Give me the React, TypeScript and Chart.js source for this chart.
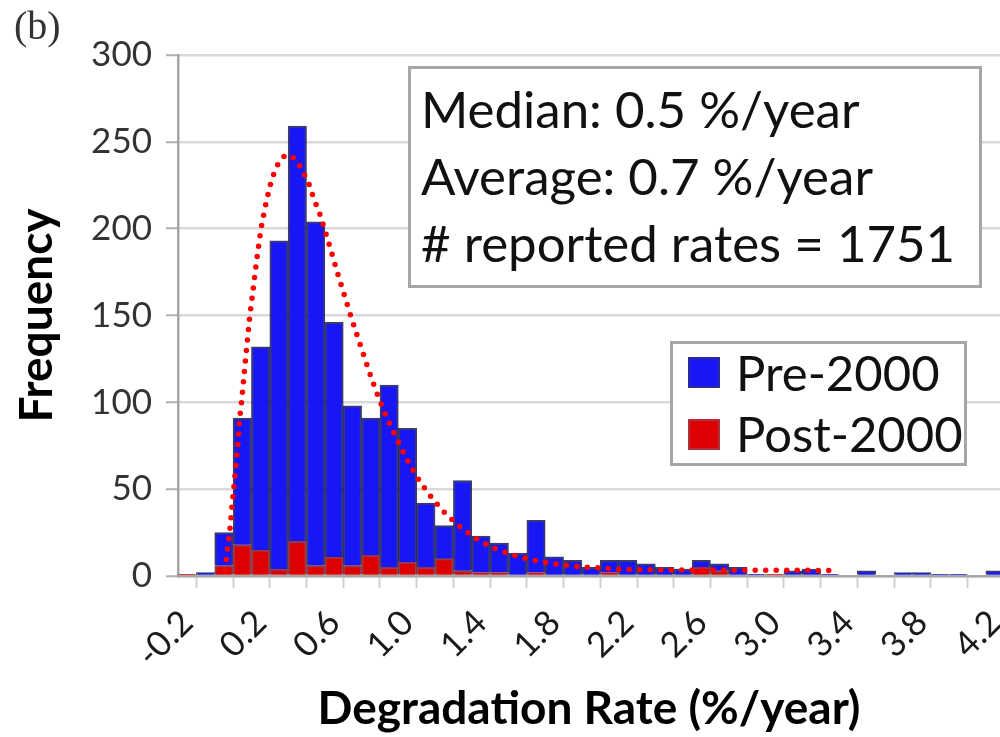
import React, { useEffect, useRef } from 'react';
import { Chart, registerables } from 'chart.js';

Chart.register(...registerables);

// Histogram bins (bin centres, %/year), width 0.1
const binCenters = [
  -0.2, -0.1, 0.0, 0.1, 0.2, 0.3, 0.4, 0.5, 0.6, 0.7, 0.8, 0.9, 1.0, 1.1, 1.2,
  1.3, 1.4, 1.5, 1.6, 1.7, 1.8, 1.9, 2.0, 2.1, 2.2, 2.3, 2.4, 2.5, 2.6, 2.7,
  2.8, 2.9, 3.0, 3.1, 3.2, 3.3, 3.4, 3.5, 3.6, 3.7, 3.8, 3.9, 4.0, 4.1, 4.2,
];
const pre2000 = [
  0, 2, 19, 73, 117, 189, 239, 198, 135, 92, 79, 105, 77, 37, 19,
  52, 21, 17, 13, 30, 11, 9, 5, 7, 9, 7, 5, 4, 4, 4,
  5, 1, 0, 3, 4, 1, 0, 3, 0, 2, 2, 1, 1, 0, 3,
];
const post2000 = [
  1, 0, 6, 18, 15, 4, 20, 6, 11, 6, 12, 5, 8, 5, 10,
  3, 2, 2, 0, 2, 0, 0, 0, 2, 0, 0, 0, 0, 5, 3,
  0, 0, 1, 0, 0, 0, 0, 0, 0, 0, 0, 0, 0, 0, 0,
];

// Fitted distribution (red dotted curve)
const curveX = [
  0.006, 0.019, 0.033, 0.044, 0.055, 0.066, 0.077, 0.084, 0.097, 0.108, 0.119,
  0.13, 0.142, 0.157, 0.171, 0.186, 0.202, 0.224, 0.249, 0.266, 0.288, 0.318,
  0.345, 0.371, 0.409, 0.436, 0.462, 0.481, 0.502, 0.522, 0.556, 0.59, 0.623,
  0.658, 0.692, 0.729, 0.765, 0.803, 0.843, 0.888, 0.936, 0.988, 1.045, 1.11,
  1.184, 1.266, 1.358, 1.459, 1.565, 1.678, 1.792, 1.905, 2.02, 2.134, 2.25,
  2.42, 2.71, 3.0, 3.34,
];
const curveY = [
  3.5, 15, 27, 40, 52, 64, 77, 89, 101, 113.6, 126,
  138, 150.6, 163, 175.6, 187.7, 200, 212, 224, 230, 236, 241,
  242.5, 241.7, 237, 231.6, 226, 220, 214, 208.6, 197, 185, 173,
  161, 149.4, 137.4, 126, 114, 102.5, 91, 80, 69, 58, 48,
  38.4, 30, 22.5, 16.5, 12.3, 9.2, 7.1, 5.6, 4.8, 4.0, 3.6,
  3.5, 3.4, 3.3, 3.2,
];

// Axis ticks
const xLabelTicks = [-0.2, 0.2, 0.6, 1.0, 1.4, 1.8, 2.2, 2.6, 3.0, 3.4, 3.8, 4.2];
const xMarkTicks = [
  -0.25, -0.05, 0.15, 0.35, 0.55, 0.75, 0.95, 1.15, 1.35, 1.55, 1.75, 1.95,
  2.15, 2.35, 2.55, 2.75, 2.95, 3.15, 3.35, 3.55, 3.75, 3.95, 4.15,
];
const xMin = -0.25;
const xMax = 4.227;
const yMin = 0;
const yMax = 300;
const yStep = 50;

const statLines = ['Median: 0.5 %/year', 'Average: 0.7 %/year', '# reported rates = 1751'];
const legendItems = [
  { label: 'Pre-2000', color: '#1717f5', border: '#2b2b9a' },
  { label: 'Post-2000', color: '#dc0000', border: '#b03040' },
];

const FONT = 'Lato';

export default function App() {
  const canvasRef = useRef<HTMLCanvasElement | null>(null);

  useEffect(() => {
    if (!canvasRef.current) return;
    const chart = new Chart(canvasRef.current, {
      data: {
        datasets: [
          {
            type: 'line',
            label: 'fit',
            data: curveX.map((x, i) => ({ x, y: curveY[i] })),
            borderColor: '#ff0000',
            borderWidth: 5.5,
            borderDash: [0, 10.5],
            borderCapStyle: 'round',
            pointRadius: 0,
            fill: false,
            tension: 0,
            stack: 'fit',
            order: 0,
          } as any,
          {
            type: 'bar',
            label: 'Post-2000',
            data: binCenters.map((x, i) => ({ x, y: post2000[i] })),
            backgroundColor: '#dc0000',
            borderColor: 'rgba(110,0,20,0.75)',
            borderWidth: 2,
            barPercentage: 1,
            categoryPercentage: 1,
            stack: 'hist',
            order: 1,
          } as any,
          {
            type: 'bar',
            label: 'Pre-2000',
            data: binCenters.map((x, i) => ({ x, y: pre2000[i] })),
            backgroundColor: '#1717f5',
            borderColor: 'rgba(10,10,80,0.8)',
            borderWidth: 2,
            barPercentage: 1,
            categoryPercentage: 1,
            stack: 'hist',
            order: 1,
          } as any,
        ],
      },
      options: {
        animation: false,
        responsive: true,
        maintainAspectRatio: false,
        layout: { padding: { top: 55, left: 0, right: 0, bottom: 0 } },
        plugins: { legend: { display: false }, tooltip: { enabled: false } },
        scales: {
          x: {
            type: 'linear',
            position: 'bottom',
            weight: 0,
            min: xMin,
            max: xMax,
            stacked: true,
            offset: false,
            afterBuildTicks: (s: any) => {
              s.ticks = xMarkTicks.map((v) => ({ value: v }));
            },
            afterFit: (s: any) => {
              s.height = 12;
              s.paddingLeft = 0;
              s.paddingRight = 0;
            },
            ticks: { display: false, autoSkip: false },
            grid: {
              drawOnChartArea: false,
              drawTicks: true,
              tickLength: 12,
              tickWidth: 2,
              tickColor: '#d0d0d0',
            },
            border: { display: true, color: '#a6a6a6', width: 2.5 },
          },
          xLabels: {
            type: 'linear',
            axis: 'x',
            position: 'bottom',
            weight: 1,
            min: xMin,
            max: xMax,
            offset: false,
            afterBuildTicks: (s: any) => {
              s.ticks = xLabelTicks.map((v) => ({ value: v }));
            },
            afterFit: (s: any) => {
              s.height = 149;
              s.paddingLeft = 0;
              s.paddingRight = 0;
            },
            ticks: {
              autoSkip: false,
              minRotation: 45,
              maxRotation: 45,
              padding: 14,
              color: '#1a1a1a',
              font: { family: FONT, size: 35 },
              callback: (v: any) => Number(v).toFixed(1),
            },
            grid: { display: false, drawOnChartArea: false, drawTicks: false },
            border: { display: false },
            title: {
              display: true,
              text: 'Degradation Rate (%/year)',
              color: '#000',
              font: { family: FONT, size: 46, weight: 'bold' },
              padding: { top: 0, bottom: 0 },
            },
          },
          y: {
            min: yMin,
            max: yMax,
            stacked: true,
            afterFit: (s: any) => {
              s.width = 178;
              s.paddingTop = 0;
              s.paddingBottom = 0;
            },
            ticks: {
              stepSize: yStep,
              padding: 14,
              color: '#333',
              font: { family: FONT, size: 35 },
            },
            grid: {
              color: '#d9d9d9',
              lineWidth: 2.5,
              tickLength: 12,
              tickWidth: 2,
              tickColor: '#b0b0b0',
            },
            border: { display: true, color: '#a6a6a6', width: 2.5 },
            title: {
              display: true,
              text: 'Frequency',
              color: '#000',
              font: { family: FONT, size: 46, weight: 'bold' },
              padding: { top: 10, bottom: 0 },
            },
          },
        },
      } as any,
    });
    return () => chart.destroy();
  }, []);

  const lineStyle = (top: number, left: number, size: number): React.CSSProperties => ({
    position: 'absolute',
    top,
    left,
    fontFamily: FONT,
    fontSize: size,
    lineHeight: `${size * 1.2}px`,
    whiteSpace: 'nowrap',
    color: '#111',
  });

  return (
    <div
      style={{
        position: 'fixed',
        left: 0,
        top: 0,
        width: 1000,
        height: 737,
        background: '#fff',
        overflow: 'hidden',
      }}
    >
      <canvas ref={canvasRef} />
      <div
        style={{
          position: 'absolute',
          left: 14,
          top: 4,
          fontFamily: '"Liberation Serif", serif',
          fontSize: 40,
          lineHeight: '44px',
          color: '#333',
        }}
      >
        (b)
      </div>
      <div
        style={{
          position: 'absolute',
          left: 408,
          top: 66,
          width: 574,
          height: 222,
          boxSizing: 'border-box',
          border: '3px solid #a6a6a6',
          background: '#fff',
        }}
      />
      {statLines.map((t, i) => (
        <div key={t} style={lineStyle(78 + i * 67, 421, 51)}>
          {t}
        </div>
      ))}
      <div
        style={{
          position: 'absolute',
          left: 670,
          top: 341,
          width: 297,
          height: 125,
          boxSizing: 'border-box',
          border: '3px solid #a6a6a6',
          background: '#fff',
        }}
      />
      {legendItems.map((it, i) => (
        <React.Fragment key={it.label}>
          <div
            style={{
              position: 'absolute',
              left: 688,
              top: 357 + i * 62,
              width: 32,
              height: 31,
              boxSizing: 'border-box',
              background: it.color,
              border: `2px solid ${it.border}`,
            }}
          />
          <div style={lineStyle(343 + i * 61, 736, 49)}>{it.label}</div>
        </React.Fragment>
      ))}
    </div>
  );
}
